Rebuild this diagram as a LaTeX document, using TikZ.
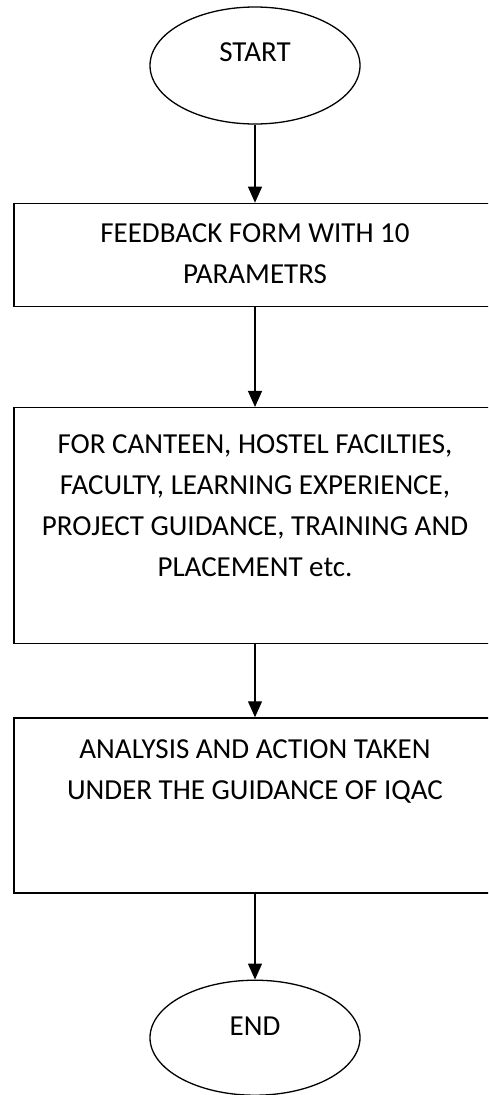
\documentclass[tikz,border=0pt]{standalone}
\usepackage{fontspec}
\setmainfont{Carlito}
\usetikzlibrary{shapes.geometric,arrows.meta,positioning}
\tikzstyle{terminal} = [ ellipse, draw = black, line width = 1.3pt, %
                         minimum width = 210pt, minimum height = 117pt, %
                         inner sep = 0pt ]
\tikzstyle{box} = [ rectangle, draw = black, line width = 1.3pt, inner sep = 0pt ]
\tikzstyle{arrow} = [line width = 1.2pt,-{Triangle[length=16pt,width=14pt]}]
\newcommand{\boxtext}[3]{\parbox[c][#1][t]{482pt}{\centering\vspace*{#2}#3}}

\begin{document}
\begin{tikzpicture}[x=1pt, y=1pt,
    every node/.style={font=\fontsize{29pt}{41pt}\selectfont}]
      \useasboundingbox (0,0) rectangle (488,-1095);
      \clip (0,0) rectangle (488,-1095);
      % Boxes
      \node (start) [terminal, text depth=26pt] at (255,-65.5) {START};
      \node (feedback) [box, below=78pt of start] %
        {\boxtext{103pt}{20pt}{FEEDBACK FORM WITH 10\\ PARAMETRS}};
      \node (areas) [box, below=100pt of feedback] %
        {\boxtext{236pt}{27.5pt}{FOR CANTEEN, HOSTEL FACILTIES,\\
          FACULTY, LEARNING EXPERIENCE,\\
          PROJECT GUIDANCE, TRAINING AND\\ PLACEMENT etc.}};
      \node (action) [box, below=73pt of areas] %
        {\boxtext{175pt}{21.5pt}{ANALYSIS AND ACTION TAKEN\\
          UNDER THE GUIDANCE OF IQAC}};
      \node (end) [terminal, minimum height=115pt, text depth=24pt, %
        below=86pt of action] {END};
      % Arrows
      \draw [arrow] (start) -- (feedback);
      \draw [arrow] (feedback) -- (areas);
      \draw [arrow] (areas) -- (action);
      \draw [arrow] (action) -- (end);
\end{tikzpicture}
\end{document}
